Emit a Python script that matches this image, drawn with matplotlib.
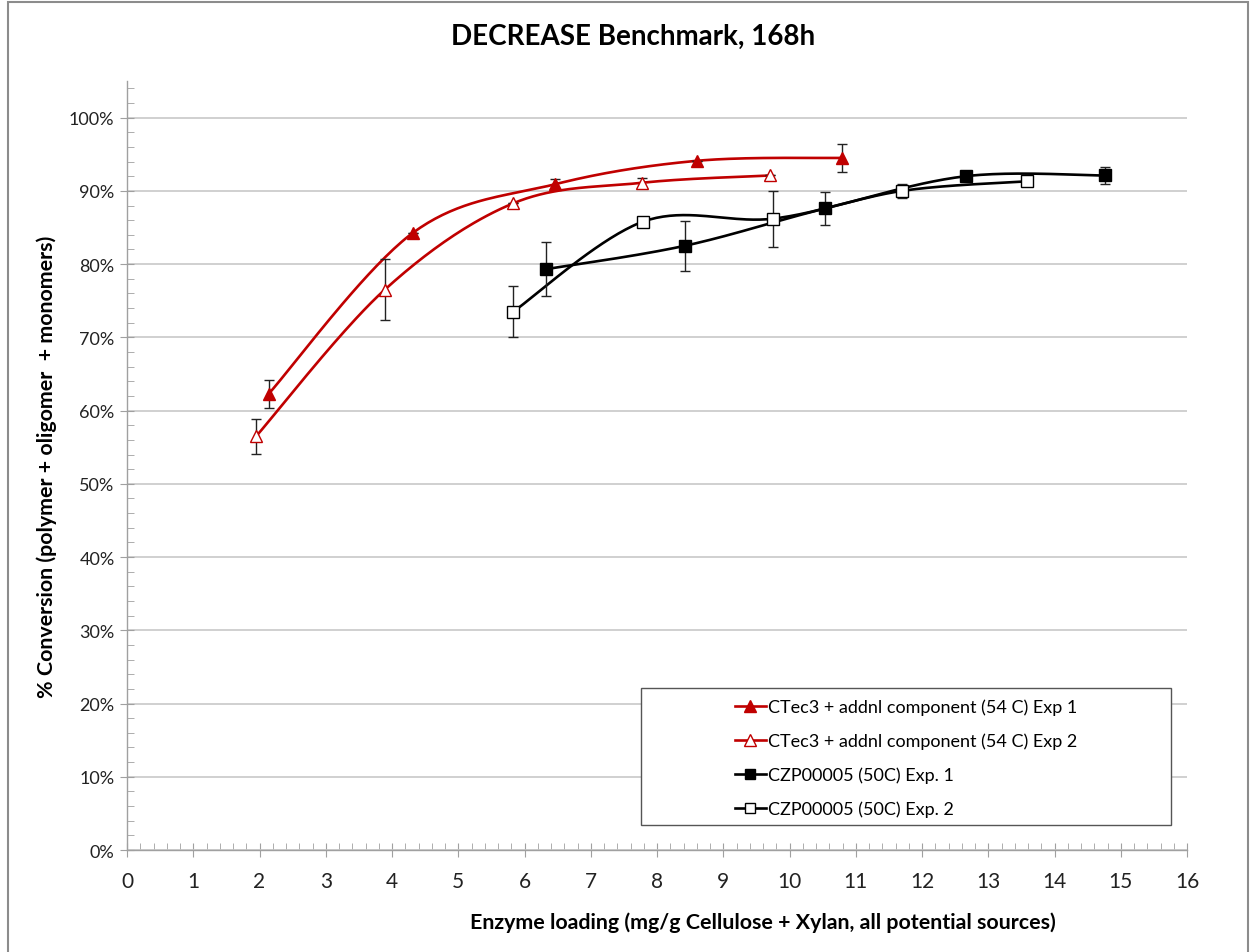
import matplotlib.pyplot as plt
import numpy as np
from matplotlib.patches import Rectangle
from matplotlib.ticker import MultipleLocator, FuncFormatter

plt.rcParams['font.family'] = ['Lato', 'DejaVu Sans']

# data (x = mg/g, y = % conversion, err = +/- %)
x_r1 = [2.14, 4.32, 6.46, 8.60, 10.79]
y_r1 = [62.3, 84.3, 90.9, 94.1, 94.5]
e_r1 = [1.9, 0.0, 0.7, 0.0, 1.9]

x_r2 = [1.95, 3.89, 5.83, 7.77, 9.71]
y_r2 = [56.5, 76.5, 88.3, 91.1, 92.1]
e_r2 = [2.4, 4.2, 0.0, 0.7, 0.0]

x_b1 = [6.32, 8.42, 10.54, 12.66, 14.76]
y_b1 = [79.3, 82.5, 87.6, 92.0, 92.1]
e_b1 = [3.7, 3.4, 2.3, 0.0, 1.2]

x_b2 = [5.83, 7.79, 9.75, 11.70, 13.58]
y_b2 = [73.5, 85.8, 86.2, 90.0, 91.3]
e_b2 = [3.5, 0.0, 3.8, 1.0, 0.0]

labels = ['CTec3 + addnl component (54 C) Exp 1',
          'CTec3 + addnl component (54 C) Exp 2',
          'CZP00005 (50C) Exp. 1',
          'CZP00005 (50C) Exp. 2']


def smooth(xs, ys, n=40):
    # Excel-style smoothed line (Catmull-Rom bezier)
    p = np.column_stack([xs, ys]).astype(float)
    p = np.vstack([p[0], p, p[-1]])
    out = []
    t = np.linspace(0, 1, n)[:, None]
    for i in range(1, len(p) - 2):
        p0, p1, p2, p3 = p[i - 1], p[i], p[i + 1], p[i + 2]
        c1 = p1 + (p2 - p0) / 6
        c2 = p2 - (p3 - p1) / 6
        seg = ((1 - t) ** 3) * p1 + 3 * ((1 - t) ** 2) * t * c1 + 3 * (1 - t) * t ** 2 * c2 + t ** 3 * p2
        out.append(seg)
    out = np.vstack(out)
    return out[:, 0], out[:, 1]


fig = plt.figure(figsize=(12.53, 9.53), dpi=100)
ax = fig.add_axes([0.10136, 0.10703, 0.84597, 0.80693])

red = '#C00000'
series = [
    (x_r1, y_r1, e_r1, red, '^', red, 9),
    (x_r2, y_r2, e_r2, red, '^', 'white', 9),
    (x_b1, y_b1, e_b1, 'black', 's', 'black', 8.5),
    (x_b2, y_b2, e_b2, 'black', 's', 'white', 8),
]

handles = []
for (xs, ys, es, col, mk, fc, ms), lab in zip(series, labels):
    sx, sy = smooth(xs, ys)
    ax.plot(sx, sy, color=col, lw=1.9, zorder=3)
    ax.errorbar(xs, ys, yerr=es, fmt='none', ecolor='#222222', elinewidth=1.0,
                capsize=3.5, capthick=1.0, zorder=4)
    ax.plot(xs, ys, linestyle='none', marker=mk, ms=ms, mfc=fc, mec=col,
            mew=1.0, zorder=5)
    h, = ax.plot([], [], color=col, lw=1.9, marker=mk, ms=ms * 0.9, mfc=fc,
                 mec=col, mew=1.0)
    handles.append(h)

ax.set_xlim(0, 16)
ax.set_ylim(0, 105)
ax.xaxis.set_major_locator(MultipleLocator(1))
ax.xaxis.set_minor_locator(MultipleLocator(0.2))
ax.yaxis.set_major_locator(MultipleLocator(10))
ax.yaxis.set_minor_locator(MultipleLocator(2))
ax.yaxis.set_major_formatter(FuncFormatter(lambda v, p: '%d%%' % v if v <= 100 else ''))

ax.grid(axis='y', which='major', color='#c8c8c8', lw=1.2)
ax.set_axisbelow(True)
for s in ['top', 'right']:
    ax.spines[s].set_visible(False)
for s in ['left', 'bottom']:
    ax.spines[s].set_color('#a0a0a0')
    ax.spines[s].set_linewidth(1.0)

ax.tick_params(axis='both', which='major', direction='inout', length=10,
               color='#a0a0a0', labelsize=13, labelcolor='#222222', pad=4)
ax.tick_params(axis='both', which='minor', direction='in', length=5,
               color='#a0a0a0')
ax.tick_params(axis='x', which='major', labelsize=15, pad=10)

fig.text(633 / 1253, 1 - 37 / 953, 'DECREASE Benchmark, 168h', fontsize=20,
         fontweight='bold', ha='center', va='center')
ax.set_xlabel('Enzyme loading (mg/g Cellulose + Xylan, all potential sources)',
              fontsize=15.4, fontweight='bold')
ax.xaxis.set_label_coords((763 - 127) / 1060, -(923 - 851) / 769)
ax.xaxis.label.set_va('center')
ax.set_ylabel('% Conversion (polymer + oligomer  + monomers)',
              fontsize=15.4, fontweight='bold')
ax.yaxis.set_label_coords(-(127 - 47) / 1060, 0.5)
ax.yaxis.label.set_va('center')

ax.add_patch(Rectangle((0.4849, 0.0325), 0.5, 0.1782, transform=ax.transAxes,
                       fill=True, facecolor='white', edgecolor='#555555',
                       lw=1.0, zorder=6))
leg = ax.legend(handles, labels, loc='upper left', bbox_to_anchor=(0.5736, 0.1973),
                frameon=False, fontsize=13, handlelength=1.7, handletextpad=0.1,
                labelspacing=0.97, borderpad=0.0, borderaxespad=0.0)
leg.set_zorder(7)

fig.add_artist(Rectangle((0.006, -0.01), 0.99, 1.007, transform=fig.transFigure,
                         fill=False, edgecolor='#8c8c8c', lw=1.5))

fig.savefig('out.png', dpi=100)
